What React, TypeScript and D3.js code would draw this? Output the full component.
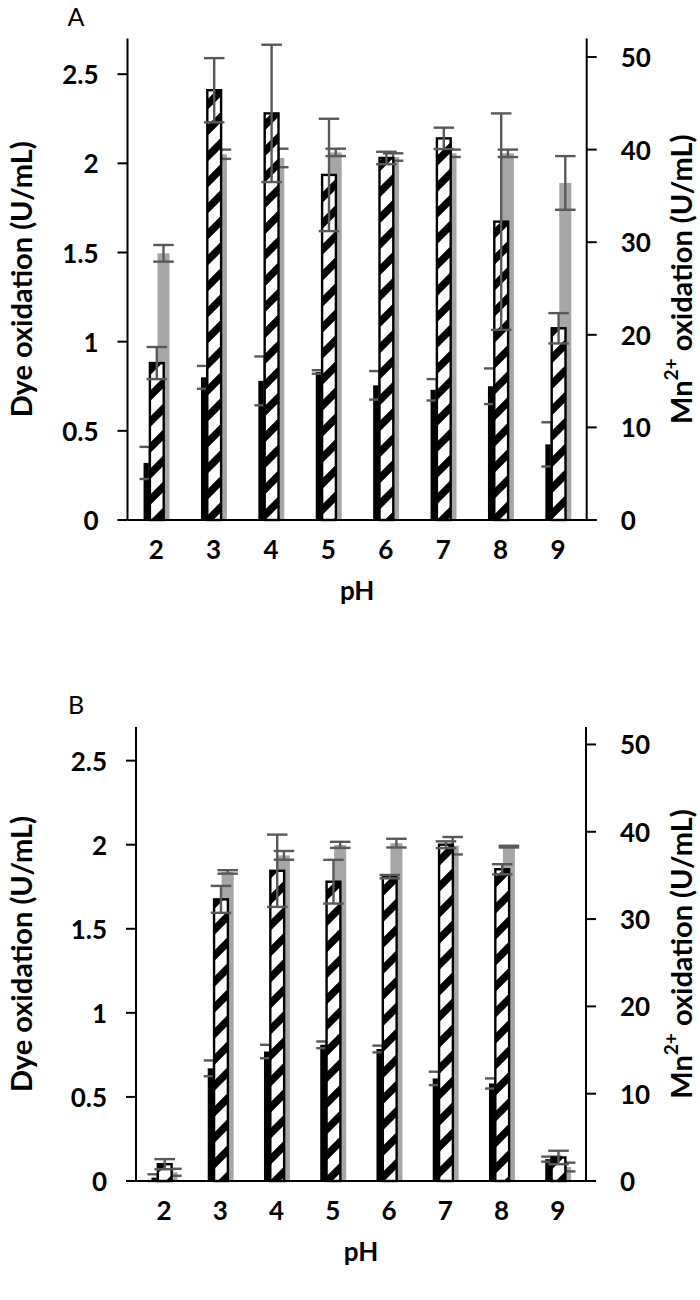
import React from 'react';
import * as d3 from 'd3';

// ---------- data ----------
const phLabels = ['2', '3', '4', '5', '6', '7', '8', '9'];
const leftTicks = [0, 0.5, 1, 1.5, 2, 2.5];
const leftTickLabels = ['0', '0.5', '1', '1.5', '2', '2.5'];
const rightTicks = [0, 10, 20, 30, 40, 50];

// Panel A
const dyeBlackA = [0.32, 0.8, 0.78, 0.83, 0.755, 0.73, 0.75, 0.424];
const dyeBlackAErr = [0.09, 0.064, 0.137, 0.01, 0.08, 0.06, 0.1, 0.124];
const dyeStripeA = [0.88, 2.41, 2.28, 1.935, 2.03, 2.14, 1.673, 1.075];
const dyeStripeAErr = [0.09, 0.18, 0.385, 0.315, 0.035, 0.06, 0.607, 0.085];
const mnA = [28.8, 39.5, 39.1, 39.7, 39.2, 39.6, 39.6, 36.4];
const mnAErr = [0.9, 0.5, 1.0, 0.4, 0.4, 0.4, 0.4, 2.9];

// Panel B
const dyeBlackB = [0.02, 0.67, 0.77, 0.81, 0.785, 0.61, 0.58, 0.13];
const dyeBlackBErr = [0.02, 0.047, 0.04, 0.02, 0.02, 0.04, 0.03, 0.015];
const dyeStripeB = [0.1, 1.675, 1.845, 1.78, 1.81, 2.0, 1.854, 0.14];
const dyeStripeBErr = [0.03, 0.08, 0.215, 0.13, 0.01, 0.02, 0.03, 0.04];
const mnB = [1.0, 35.4, 37.3, 38.5, 38.7, 38.4, 38.3, 1.6];
const mnBErr = [0.4, 0.2, 0.5, 0.35, 0.5, 1.0, 0.1, 0.5];

const FONT = "Lato, 'Open Sans', 'DejaVu Sans', sans-serif";
const ERR = '#595959';
const GRAY = '#a6a6a6';

type PanelProps = {
  letter: string;
  x0: number; x1: number; y0: number; y1: number;
  black: number[]; blackErr: number[];
  stripe: number[]; stripeErr: number[];
  mn: number[]; mnErr: number[];
};

function ErrBar({ cx, yHi, yLo, cap }: { cx: number; yHi: number; yLo: number; cap: number }) {
  return (
    <g stroke={ERR} strokeWidth={2.4}>
      <line x1={cx} x2={cx} y1={yHi} y2={yLo} />
      <line x1={cx - cap / 2} x2={cx + cap / 2} y1={yHi} y2={yHi} />
      <line x1={cx - cap / 2} x2={cx + cap / 2} y1={yLo} y2={yLo} />
    </g>
  );
}

function Panel(p: PanelProps) {
  const x = d3.scaleBand<string>().domain(phLabels).range([p.x0, p.x1]).padding(0);
  const yL = d3.scaleLinear().domain([0, 2.7]).range([p.y1, p.y0]);
  const yR = d3.scaleLinear().domain([0, 52]).range([p.y1, p.y0]);
  const bw = x.bandwidth();
  const c = (i: number) => (x(phLabels[i]) as number) + bw / 2;
  const wB = 12.5, wS = 13.8, wG = 12;
  const oB = -6.4, oS = 0.6, oG = 7.3;
  const cap = 20.5;
  const midY = (p.y0 + p.y1) / 2;

  return (
    <g>
      <text x={76} y={p.y0 - 23} fontFamily={FONT} fontSize={25} textAnchor="middle" dominantBaseline="central">{p.letter}</text>

      {/* gray Mn bars (right axis) */}
      {p.mn.map((v, i) => (
        <g key={'g' + i}>
          <rect x={c(i) + oG - wG / 2} y={yR(v)} width={wG} height={p.y1 - yR(v)} fill={GRAY} />
          <ErrBar cx={c(i) + oG} yHi={yR(v + p.mnErr[i])} yLo={yR(Math.max(0, v - p.mnErr[i]))} cap={cap} />
        </g>
      ))}
      {/* black bars */}
      {p.black.map((v, i) => (
        <g key={'b' + i}>
          <rect x={c(i) + oB - wB / 2} y={yL(v)} width={wB} height={p.y1 - yL(v)} fill="#000" />
          <ErrBar cx={c(i) + oB} yHi={yL(v + p.blackErr[i])} yLo={yL(Math.max(0, v - p.blackErr[i]))} cap={cap} />
        </g>
      ))}
      {/* striped bars */}
      {p.stripe.map((v, i) => (
        <g key={'s' + i}>
          <rect x={c(i) + oS - wS / 2} y={yL(v)} width={wS} height={p.y1 - yL(v)} fill="url(#stripes)" stroke="#000" strokeWidth={2.4} />
          <ErrBar cx={c(i) + oS} yHi={yL(v + p.stripeErr[i])} yLo={yL(Math.max(0, v - p.stripeErr[i]))} cap={cap} />
        </g>
      ))}

      {/* axes */}
      <g stroke="#000" strokeWidth={2}>
        <line x1={p.x0} x2={p.x0} y1={p.y0} y2={p.y1} />
        <line x1={p.x1} x2={p.x1} y1={p.y0} y2={p.y1} />
        <line x1={p.x0} x2={p.x1 + 10} y1={p.y1} y2={p.y1} />
        {leftTicks.map((t) => (
          <line key={'lt' + t} x1={p.x0 - 10} x2={p.x0} y1={yL(t)} y2={yL(t)} />
        ))}
        {rightTicks.map((t) => (
          <line key={'rt' + t} x1={p.x1} x2={p.x1 + 10} y1={yR(t)} y2={yR(t)} />
        ))}
      </g>
      <g fontFamily={FONT} fontWeight="bold" fontSize={26} fill="#000">
        {leftTicks.map((t, i) => (
          <text key={'ll' + t} x={p.x0 - 29} y={yL(t)} textAnchor="end" dominantBaseline="central">{leftTickLabels[i]}</text>
        ))}
        {rightTicks.map((t) => (
          <text key={'rl' + t} x={p.x1 + 34} y={yR(t)} textAnchor="start" dominantBaseline="central">{t}</text>
        ))}
        {phLabels.map((l, i) => (
          <text key={'xl' + l} x={c(i)} y={p.y1 + 29} textAnchor="middle" dominantBaseline="central">{l}</text>
        ))}
        <text x={(p.x0 + p.x1) / 2} y={p.y1 + 70} textAnchor="middle" dominantBaseline="central">pH</text>
        <text fontSize={29} transform={`translate(20,${midY}) rotate(-90)`} textAnchor="middle" dominantBaseline="central">Dye oxidation (U/mL)</text>
        <text fontSize={29} transform={`translate(680,${midY}) rotate(-90)`} textAnchor="middle" dominantBaseline="central">
          Mn<tspan fontSize={19} dy={-10}>2+</tspan><tspan dy={10}> oxidation (U/mL)</tspan>
        </text>
      </g>
    </g>
  );
}

export default function App() {
  return (
    <svg width={700} height={1300} style={{ position: 'absolute', left: 0, top: 0, background: '#fff' }}>
      <defs>
        <pattern id="stripes" patternUnits="userSpaceOnUse" width={26} height={26}>
          <rect width={26} height={26} fill="#fff" />
          <path d="M-6.5,6.5 l13,-13 M0,26 l26,-26 M19.5,32.5 l13,-13" stroke="#000" strokeWidth={7.5} />
        </pattern>
      </defs>
      <rect width={700} height={1300} fill="#fff" />
      <Panel letter="A" x0={127.5} x1={586.7} y0={38.5} y1={520}
        black={dyeBlackA} blackErr={dyeBlackAErr} stripe={dyeStripeA} stripeErr={dyeStripeAErr} mn={mnA} mnErr={mnAErr} />
      <Panel letter="B" x0={136} x1={586} y0={727} y1={1181}
        black={dyeBlackB} blackErr={dyeBlackBErr} stripe={dyeStripeB} stripeErr={dyeStripeBErr} mn={mnB} mnErr={mnBErr} />
    </svg>
  );
}
